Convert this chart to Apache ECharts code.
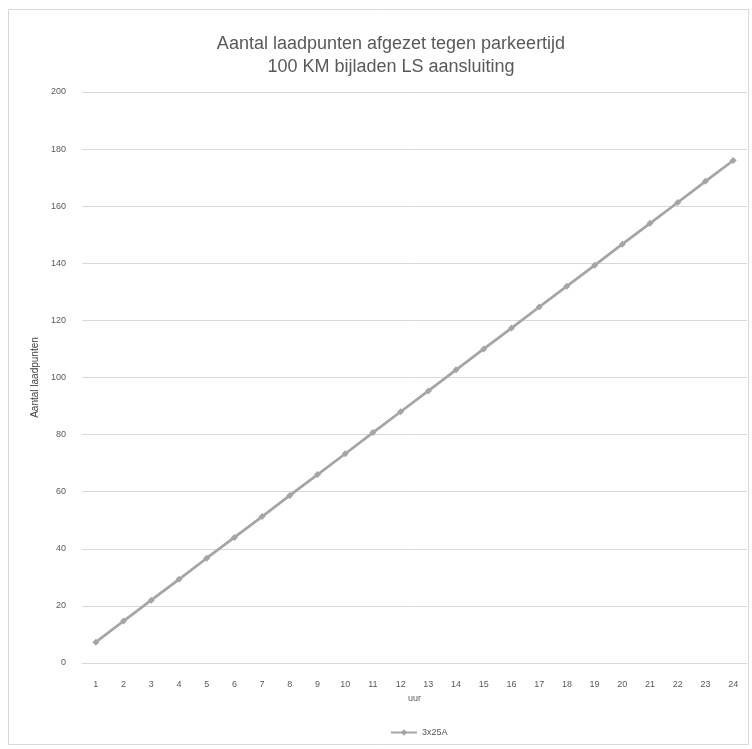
<!DOCTYPE html>
<html>
<head>
<meta charset="utf-8">
<script src="https://cdn.jsdelivr.net/npm/echarts@6/dist/echarts.min.js"></script>
<style>html,body{margin:0;padding:0;background:#fff}#c{width:752px;height:749px}</style>
</head>
<body>
<div id="c"></div>
<script>
var categories = ['1','2','3','4','5','6','7','8','9','10','11','12','13','14','15','16','17','18','19','20','21','22','23','24'];
var seriesName = '3x25A';
var values = [7.3, 14.7, 22, 29.3, 36.7, 44, 51.3, 58.7, 66, 73.3, 80.7, 88, 95.3, 102.7, 110, 117.3, 124.7, 132, 139.3, 146.7, 154, 161.3, 168.7, 176];
var yTicks = {min: 0, max: 200, interval: 20};
var titleText = 'Aantal laadpunten afgezet tegen parkeertijd\n100 KM bijladen LS aansluiting';

var chart = echarts.init(document.getElementById('c'), null, {renderer: 'canvas'});
var txt = '#595959';
chart.setOption({
  animation: false,
  backgroundColor: '#fff',
  graphic: [{
    type: 'rect', left: 8, top: 9, z: -1,
    shape: {width: 740, height: 735},
    style: {fill: '#fff', stroke: '#d9d9d9', lineWidth: 1}
  }],
  title: {
    text: titleText, left: 386, top: 28, textAlign: 'center',
    textStyle: {fontFamily: 'Liberation Sans, Arial', fontSize: 18, fontWeight: 'normal', color: txt, lineHeight: 23}
  },
  legend: {
    data: [seriesName], left: 385, top: 723, textAlign: 'center',
    itemWidth: 26, itemHeight: 8, itemGap: 4,
    textStyle: {fontFamily: 'Liberation Sans, Arial', fontSize: 9, color: txt}
  },
  grid: {left: 82, right: 5, top: 92, bottom: 86},
  xAxis: {
    type: 'category', data: categories, boundaryGap: true,
    name: 'uur', nameLocation: 'middle', nameGap: 25,
    nameTextStyle: {fontFamily: 'Liberation Sans, Arial', fontSize: 9, color: txt},
    axisLine: {lineStyle: {color: '#d9d9d9'}},
    axisTick: {show: false},
    axisLabel: {color: txt, fontSize: 9, fontFamily: 'Liberation Sans, Arial', margin: 17, interval: 0}
  },
  yAxis: {
    type: 'value', min: yTicks.min, max: yTicks.max, interval: yTicks.interval,
    name: 'Aantal laadpunten', nameLocation: 'middle', nameGap: 41, nameRotate: 90,
    nameTextStyle: {fontFamily: 'Liberation Sans, Arial', fontSize: 10, color: '#404040'},
    axisLine: {show: false}, axisTick: {show: false},
    axisLabel: {color: txt, fontSize: 9, fontFamily: 'Liberation Sans, Arial', margin: 16},
    splitLine: {lineStyle: {color: '#d9d9d9', width: 1}}
  },
  series: [{
    name: seriesName, type: 'line', data: values,
    lineStyle: {color: '#a5a5a5', width: 2.75},
    itemStyle: {color: '#a5a5a5'},
    symbol: 'diamond', symbolSize: 7, showSymbol: true
  }]
});
</script>
</body>
</html>
